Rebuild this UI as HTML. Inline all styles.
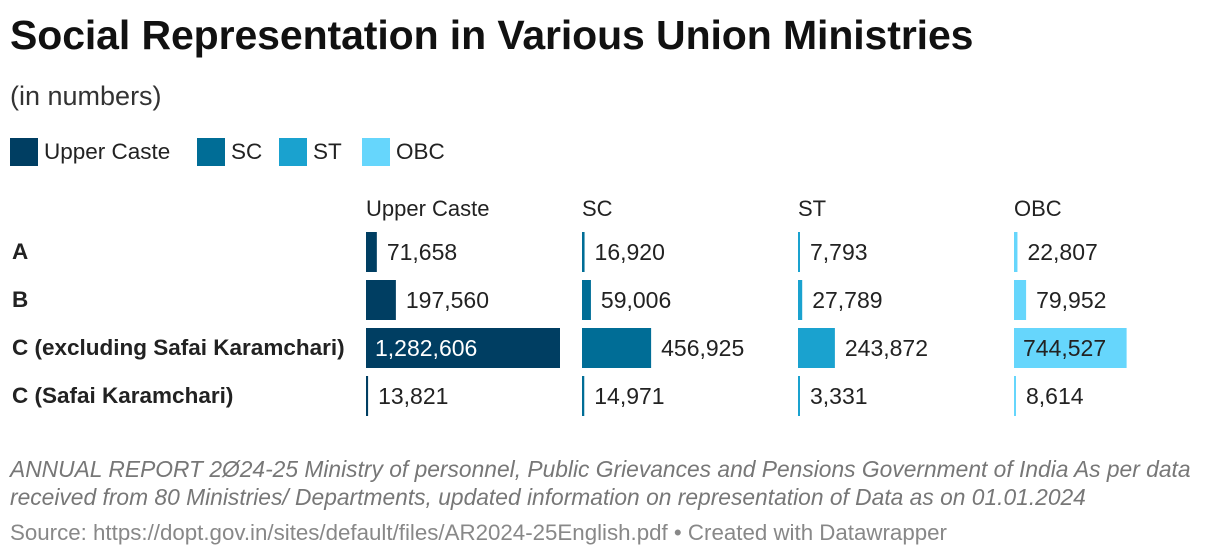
<!DOCTYPE html>
<html><head><meta charset="utf-8">
<style>
body{margin:0;background:#fff;width:1220px;height:558px;overflow:hidden;font-family:"Liberation Sans",sans-serif;color:#222;}
.t{position:absolute;white-space:nowrap}
</style></head>
<body>
<div class="t" style="left:10px;top:12px;font-size:41px;font-weight:bold;color:#111;letter-spacing:-0.1px">Social Representation in Various Union Ministries</div>
<div class="t" style="left:10px;top:81px;font-size:27px;color:#333">(in numbers)</div>
<div id="legend"></div>
<svg id="chart" width="1220" height="558" style="position:absolute;left:0;top:0"></svg>
<div class="t" style="left:10px;top:455px;font-size:22.8px;font-style:italic;color:#777;line-height:28px">ANNUAL REPORT 2Ø24-25 Ministry of personnel, Public Grievances and Pensions Government of India As per data<br>received from 80 Ministries/ Departments, updated information on representation of Data as on 01.01.2024</div>
<div class="t" style="left:10px;top:520px;font-size:22.3px;color:#888">Source: https://dopt.gov.in/sites/default/files/AR2024-25English.pdf • Created with Datawrapper</div>
<script>
const categories = ["A","B","C (excluding Safai Karamchari)","C (Safai Karamchari)"];
const seriesNames = ["Upper Caste","SC","ST","OBC"];
const upperCaste = [71658,197560,1282606,13821];
const sc = [16920,59006,456925,14971];
const st = [7793,27789,243872,3331];
const obc = [22807,79952,744527,8614];
const colors = ["#003e62","#006d96","#1aa2cf","#66d6fc"];
const series = [upperCaste, sc, st, obc];
const NS="http://www.w3.org/2000/svg";
const svg=document.getElementById('chart');
const maxV=Math.max(...series.flat());
const colX=i=>366+i*216;
const rowY=j=>232+j*48;
const xScale=v=>v/maxV*194;
function txt(x,y,s,attrs){const t=document.createElementNS(NS,'text');t.setAttribute('x',x);t.setAttribute('y',y);t.textContent=s;for(const k in attrs)t.setAttribute(k,attrs[k]);svg.appendChild(t);return t;}
const leg=document.getElementById('legend');
const legX=[10,197,279,362];
seriesNames.forEach((n,i)=>{
  const lx=legX[i];
  const sw=document.createElement('div');
  
  
  sw.style.cssText=`position:absolute;left:${lx}px;top:138px;width:28px;height:28px;background:${colors[i]}`;
  leg.appendChild(sw);
  const lb=document.createElement('div');
  lb.className='t';
  
  
  lb.style.cssText=`left:${lx+34}px;top:139px;font-size:22.5px;color:#222`;
  lb.textContent=n;
  leg.appendChild(lb);
});
categories.forEach((c,j)=>{
  const t=txt(12,rowY(j)+27,c,{'font-size':'22.5','font-weight':'bold','fill':'#222','font-family':'Liberation Sans, sans-serif'});
  
  
});
seriesNames.forEach((n,i)=>{
  const h=txt(colX(i),216,n,{'font-size':'22','fill':'#222','font-family':'Liberation Sans, sans-serif'});
  
  
  series[i].forEach((v,j)=>{
    const w=Math.max(2,xScale(v));
    const r=document.createElementNS(NS,'rect');
    r.setAttribute('x',colX(i));r.setAttribute('y',rowY(j));r.setAttribute('width',w);r.setAttribute('height',40);r.setAttribute('fill',colors[i]);
    
    
    svg.appendChild(r);
    const s=v.toLocaleString('en-US');
    const inside = w>110;
    const fill = inside ? (i===3?'#222':'#fff') : '#222';
    const lx2 = inside ? colX(i)+9 : colX(i)+w+10;
    const t=txt(lx2,rowY(j)+28,s,{'font-size':'23','fill':fill,'font-family':'Liberation Sans, sans-serif'});
    
    
  });
});
</script>
</body></html>
